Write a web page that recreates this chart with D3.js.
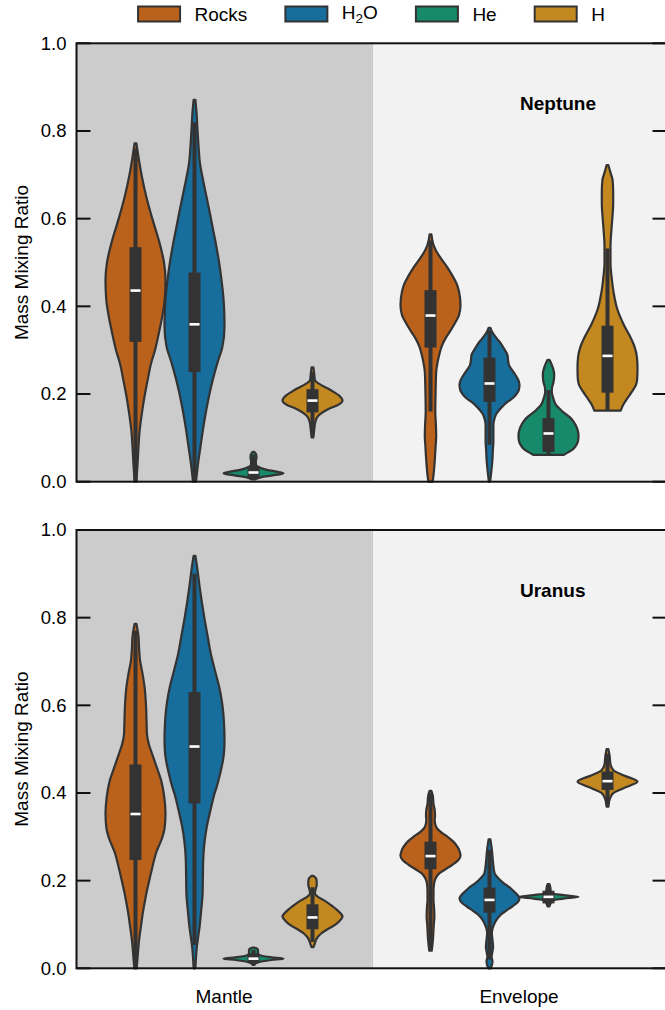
<!DOCTYPE html>
<html>
<head>
<meta charset="utf-8">
<script src="https://cdn.jsdelivr.net/npm/d3@7"></script>
<style>
  html, body { margin: 0; padding: 0; background: #ffffff; }
  svg { display: block; }
  text { font-family: "Liberation Sans", Arial, sans-serif; fill: #000; }
</style>
</head>
<body>
<svg id="chart" width="665" height="1010"></svg>
<script>
// ---- categories ----
const regions = ["Mantle", "Envelope"];
const species = ["Rocks", "H2O", "He", "H"];
const speciesColors = ["#ba611b", "#176d9c", "#168a6a", "#c38820"];
const planets = ["Neptune", "Uranus"];
const yTicks = [0.0, 0.2, 0.4, 0.6, 0.8, 1.0];

// ---- violin density profiles: [mass mixing ratio, relative half-width] ----
const neptuneMantleRocks = [[0.772,0.03],[0.74,0.1],[0.70,0.2],[0.65,0.36],[0.60,0.56],[0.55,0.78],[0.50,0.95],[0.46,1.0],[0.42,0.98],[0.38,0.9],[0.346,0.8],[0.30,0.65],[0.27,0.52],[0.23,0.4],[0.194,0.3],[0.15,0.2],[0.118,0.14],[0.08,0.1],[0.042,0.07],[0.0,0.03]];
const neptuneMantleH2O = [[0.871,0.03],[0.84,0.07],[0.803,0.1],[0.76,0.14],[0.727,0.18],[0.69,0.28],[0.65,0.4],[0.61,0.52],[0.575,0.62],[0.54,0.72],[0.50,0.82],[0.46,0.9],[0.423,0.96],[0.39,0.99],[0.354,1.0],[0.308,0.93],[0.27,0.76],[0.23,0.6],[0.194,0.48],[0.155,0.37],[0.118,0.28],[0.08,0.2],[0.042,0.12],[0.0,0.05]];
const neptuneMantleHe = [[0.068,0.03],[0.062,0.09],[0.055,0.1],[0.047,0.08],[0.04,0.08],[0.033,0.18],[0.027,0.45],[0.022,0.85],[0.019,1.0],[0.016,0.8],[0.012,0.4],[0.008,0.15],[0.005,0.05]];
const neptuneMantleH = [[0.261,0.03],[0.245,0.06],[0.232,0.08],[0.222,0.25],[0.213,0.5],[0.205,0.7],[0.197,0.88],[0.185,1.0],[0.175,0.85],[0.168,0.6],[0.16,0.38],[0.152,0.22],[0.145,0.14],[0.135,0.09],[0.12,0.06],[0.101,0.03]];

const neptuneEnvelopeRocks = [[0.564,0.03],[0.54,0.1],[0.525,0.2],[0.51,0.34],[0.49,0.55],[0.47,0.73],[0.45,0.88],[0.434,0.95],[0.403,1.0],[0.38,0.95],[0.365,0.84],[0.345,0.67],[0.327,0.5],[0.31,0.38],[0.289,0.29],[0.27,0.23],[0.251,0.19],[0.206,0.17],[0.16,0.16],[0.13,0.18],[0.105,0.19],[0.08,0.17],[0.047,0.14],[0.015,0.1],[0.0,0.07]];
const neptuneEnvelopeH2O = [[0.351,0.03],[0.34,0.1],[0.327,0.24],[0.315,0.38],[0.304,0.48],[0.289,0.6],[0.277,0.62],[0.266,0.65],[0.255,0.75],[0.244,0.86],[0.232,0.96],[0.221,1.0],[0.21,0.98],[0.202,0.92],[0.192,0.8],[0.183,0.62],[0.173,0.45],[0.164,0.33],[0.155,0.23],[0.145,0.17],[0.129,0.13],[0.11,0.13],[0.091,0.13],[0.07,0.11],[0.053,0.1],[0.023,0.06],[0.0,0.02]];
const neptuneEnvelopeHe = [[0.278,0.03],[0.27,0.09],[0.259,0.15],[0.244,0.19],[0.228,0.17],[0.215,0.12],[0.205,0.11],[0.19,0.16],[0.175,0.25],[0.16,0.47],[0.145,0.74],[0.13,0.9],[0.118,0.97],[0.107,1.0],[0.095,0.99],[0.084,0.93],[0.075,0.83],[0.068,0.68],[0.061,0.5]];
const neptuneEnvelopeH = [[0.722,0.03],[0.705,0.1],[0.688,0.17],[0.66,0.19],[0.635,0.19],[0.6,0.16],[0.574,0.13],[0.536,0.1],[0.498,0.1],[0.471,0.13],[0.433,0.2],[0.395,0.32],[0.357,0.55],[0.33,0.76],[0.308,0.9],[0.285,0.98],[0.259,1.0],[0.235,0.99],[0.221,0.95],[0.206,0.82],[0.19,0.66],[0.175,0.52],[0.162,0.44]];

const uranusMantleRocks = [[0.786,0.03],[0.757,0.1],[0.73,0.12],[0.703,0.15],[0.67,0.24],[0.643,0.3],[0.6,0.35],[0.56,0.37],[0.536,0.38],[0.51,0.45],[0.49,0.55],[0.46,0.7],[0.43,0.85],[0.39,0.96],[0.354,1.0],[0.32,0.97],[0.3,0.9],[0.262,0.68],[0.23,0.56],[0.201,0.46],[0.17,0.36],[0.148,0.3],[0.12,0.23],[0.095,0.18],[0.065,0.12],[0.034,0.08],[0.0,0.04]];
const uranusMantleH2O = [[0.941,0.03],[0.909,0.1],[0.871,0.17],[0.833,0.25],[0.795,0.34],[0.757,0.44],[0.719,0.54],[0.68,0.68],[0.643,0.82],[0.61,0.91],[0.582,0.96],[0.55,0.99],[0.521,1.0],[0.49,0.98],[0.475,0.95],[0.44,0.84],[0.414,0.74],[0.399,0.67],[0.36,0.53],[0.323,0.41],[0.285,0.33],[0.247,0.29],[0.21,0.28],[0.171,0.27],[0.13,0.22],[0.095,0.17],[0.07,0.12],[0.05,0.08],[0.025,0.05],[0.0,0.03]];
const uranusMantleHe = [[0.047,0.04],[0.045,0.12],[0.042,0.15],[0.038,0.15],[0.033,0.15],[0.028,0.3],[0.025,0.6],[0.022,1.0],[0.019,0.6],[0.016,0.3],[0.012,0.1],[0.008,0.03]];
const uranusMantleH = [[0.211,0.03],[0.205,0.12],[0.198,0.14],[0.19,0.14],[0.18,0.1],[0.171,0.08],[0.163,0.18],[0.156,0.36],[0.146,0.58],[0.137,0.75],[0.128,0.9],[0.118,1.0],[0.108,0.9],[0.099,0.75],[0.09,0.52],[0.08,0.3],[0.072,0.18],[0.065,0.12],[0.055,0.07],[0.048,0.03]];

const uranusEnvelopeRocks = [[0.405,0.03],[0.393,0.08],[0.375,0.1],[0.361,0.14],[0.348,0.15],[0.338,0.14],[0.328,0.16],[0.319,0.22],[0.309,0.38],[0.3,0.57],[0.289,0.76],[0.277,0.9],[0.267,0.97],[0.257,1.0],[0.247,0.93],[0.236,0.73],[0.226,0.5],[0.217,0.3],[0.205,0.17],[0.194,0.12],[0.175,0.1],[0.156,0.1],[0.137,0.12],[0.118,0.13],[0.1,0.11],[0.088,0.1],[0.065,0.08],[0.04,0.04]];
const uranusEnvelopeH2O = [[0.294,0.03],[0.27,0.08],[0.24,0.12],[0.217,0.17],[0.205,0.3],[0.194,0.48],[0.185,0.66],[0.175,0.82],[0.166,0.95],[0.159,1.0],[0.15,0.93],[0.141,0.76],[0.131,0.55],[0.122,0.37],[0.112,0.25],[0.103,0.17],[0.09,0.1],[0.08,0.08],[0.065,0.1],[0.049,0.12],[0.035,0.09],[0.027,0.07],[0.015,0.1],[0.0,0.04]];
const uranusEnvelopeHe = [[0.192,0.03],[0.185,0.06],[0.175,0.08],[0.171,0.12],[0.167,0.5],[0.163,1.0],[0.159,0.5],[0.155,0.12],[0.15,0.08],[0.145,0.05],[0.141,0.03]];
const uranusEnvelopeH = [[0.5,0.03],[0.485,0.07],[0.465,0.1],[0.452,0.2],[0.44,0.55],[0.426,1.0],[0.411,0.53],[0.4,0.2],[0.387,0.08],[0.369,0.03]];

// ---- box summaries per species: [whisker low, q1, median, q3, whisker high] ----
const neptuneMantleBoxes = [[0.0,0.319,0.436,0.535,0.76],[0.0,0.25,0.359,0.477,0.82],[0.005,0.008,0.021,0.036,0.062],[0.108,0.158,0.185,0.211,0.25]];
const neptuneEnvelopeBoxes = [[0.16,0.306,0.379,0.437,0.55],[0.084,0.182,0.224,0.283,0.345],[0.061,0.068,0.11,0.145,0.209],[0.162,0.203,0.287,0.356,0.532]];
const uranusMantleBoxes = [[0.0,0.247,0.352,0.465,0.77],[0.053,0.376,0.506,0.63,0.9],[0.01,0.012,0.022,0.034,0.042],[0.06,0.089,0.116,0.146,0.185]];
const uranusEnvelopeBoxes = [[0.043,0.226,0.256,0.289,0.4],[0.02,0.127,0.156,0.184,0.27],[0.145,0.148,0.163,0.177,0.19],[0.375,0.407,0.427,0.449,0.49]];

const profiles = {
  Neptune: { Mantle: [neptuneMantleRocks, neptuneMantleH2O, neptuneMantleHe, neptuneMantleH],
             Envelope: [neptuneEnvelopeRocks, neptuneEnvelopeH2O, neptuneEnvelopeHe, neptuneEnvelopeH] },
  Uranus:  { Mantle: [uranusMantleRocks, uranusMantleH2O, uranusMantleHe, uranusMantleH],
             Envelope: [uranusEnvelopeRocks, uranusEnvelopeH2O, uranusEnvelopeHe, uranusEnvelopeH] }
};
const boxes = {
  Neptune: { Mantle: neptuneMantleBoxes, Envelope: neptuneEnvelopeBoxes },
  Uranus:  { Mantle: uranusMantleBoxes, Envelope: uranusEnvelopeBoxes }
};

// ---- layout ----
const svg = d3.select("#chart");
const plotLeft = 76.5, plotRight = 666.5;
const panelExtents = [[43.3, 481.7], [530, 968.3]];
const ink = "#333333";
const spineColor = "#111111";

const x = d3.scaleBand().domain(regions).range([plotLeft, plotRight]);
const dodge = d3.scaleBand().domain(species)
  .range([(x.bandwidth() - 236) / 2, (x.bandwidth() + 236) / 2]);
const halfWidth = d3.scaleLinear().domain([0, 1]).range([0, 30]);
const color = d3.scaleOrdinal().domain(species).range(speciesColors);
const regionFill = d3.scaleOrdinal().domain(regions).range(["#cccccc", "#f2f2f2"]);

const centerOf = (region, sp) => x(region) + dodge(sp) + dodge.bandwidth() / 2;

planets.forEach((planet, pi) => {
  const [top, bottom] = panelExtents[pi];
  const y = d3.scaleLinear().domain([0, 1]).range([bottom, top]);
  const g = svg.append("g");

  // shaded region backgrounds
  g.selectAll("rect.region").data(regions).join("rect")
    .attr("x", d => x(d)).attr("y", top)
    .attr("width", x.bandwidth()).attr("height", bottom - top)
    .attr("fill", d => regionFill(d));
  g.append("rect")
    .attr("x", x("Envelope")).attr("y", top)
    .attr("width", 1.4).attr("height", bottom - top)
    .attr("fill", "#c1c1c1");

  // violins
  regions.forEach(region => {
    species.forEach((sp, si) => {
      const cx = centerOf(region, sp);
      const prof = profiles[planet][region][si];
      const area = d3.area()
        .y(d => y(d[0]))
        .x0(d => cx - halfWidth(d[1]))
        .x1(d => cx + halfWidth(d[1]))
        .curve(d3.curveMonotoneY);
      const sorted = prof.slice().sort((a, b) => b[0] - a[0]);
      g.append("path")
        .attr("d", area(sorted))
        .attr("fill", color(sp))
        .attr("stroke", ink)
        .attr("stroke-width", 2.2)
        .attr("stroke-linejoin", "round");

      const [lo, q1, med, q3, hi] = boxes[planet][region][si];
      g.append("line")
        .attr("x1", cx).attr("x2", cx)
        .attr("y1", y(lo)).attr("y2", y(hi))
        .attr("stroke", ink).attr("stroke-width", 4);
      g.append("rect")
        .attr("x", cx - 6).attr("width", 12)
        .attr("y", y(q3)).attr("height", y(q1) - y(q3))
        .attr("fill", ink);
      g.append("rect")
        .attr("x", cx - 5).attr("width", 10)
        .attr("y", y(med) - 1.3).attr("height", 2.6)
        .attr("fill", "#ffffff");
    });
  });

  // ticks (inward) on both sides
  yTicks.forEach(t => {
    g.append("line").attr("x1", plotLeft).attr("x2", plotLeft + 14)
      .attr("y1", y(t)).attr("y2", y(t))
      .attr("stroke", spineColor).attr("stroke-width", 2);
    g.append("line").attr("x1", plotRight - 14).attr("x2", plotRight)
      .attr("y1", y(t)).attr("y2", y(t))
      .attr("stroke", spineColor).attr("stroke-width", 2);
  });
  g.selectAll("text.tick").data(yTicks).join("text")
    .attr("x", plotLeft - 10).attr("y", d => y(d))
    .attr("dy", "0.35em")
    .attr("text-anchor", "end")
    .attr("font-size", 18.5)
    .text(d => d3.format(".1f")(d));

  // spines
  g.append("rect")
    .attr("x", plotLeft).attr("y", top)
    .attr("width", plotRight - plotLeft).attr("height", bottom - top)
    .attr("fill", "none").attr("stroke", spineColor).attr("stroke-width", 2);

  // axis label
  g.append("text")
    .attr("transform", `translate(27.5,${(top + bottom) / 2}) rotate(-90)`)
    .attr("text-anchor", "middle")
    .attr("font-size", 19)
    .text("Mass Mixing Ratio");

  // planet name
  g.append("text")
    .attr("x", 520).attr("y", top + 66.5)
    .attr("font-size", 19).attr("font-weight", "bold")
    .text(planet);
});

// region labels under the lower panel
svg.selectAll("text.region").data(regions).join("text")
  .attr("x", d => x(d) + x.bandwidth() / 2)
  .attr("y", 1003)
  .attr("text-anchor", "middle")
  .attr("font-size", 19)
  .text(d => d);

// legend
const legend = svg.append("g");
const items = legend.selectAll("g").data(species).join("g");
items.append("rect")
  .attr("width", 42).attr("height", 15).attr("y", 6.5)
  .attr("fill", d => color(d)).attr("stroke", ink).attr("stroke-width", 2);
const labels = items.append("text")
  .attr("x", 56.5).attr("y", 20.5)
  .attr("font-size", 19);
labels.each(function(d) {
  const t = d3.select(this);
  if (d === "H2O") {
    t.attr("y", 18.5);
    t.append("tspan").text("H");
    t.append("tspan").attr("dy", 4).attr("font-size", 13.5).text("2");
    t.append("tspan").attr("dy", -4).text("O");
  } else {
    t.text(d);
  }
});
const colGap = 38;
let widths = [];
labels.each(function() { widths.push(56.5 + this.getComputedTextLength()); });
const total = d3.sum(widths) + colGap * (widths.length - 1);
let cursor = (plotLeft + plotRight) / 2 - total / 2;
items.each(function(d, i) {
  d3.select(this).attr("transform", `translate(${cursor},0)`);
  cursor += widths[i] + colGap;
});
</script>
</body>
</html>
